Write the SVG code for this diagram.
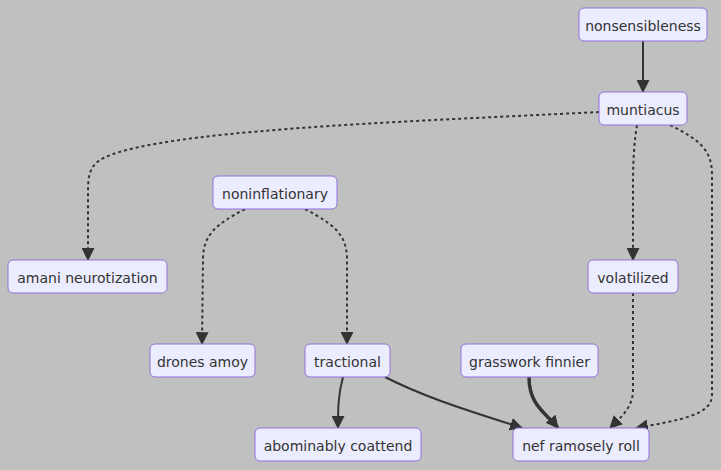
<svg xmlns="http://www.w3.org/2000/svg" width="721" height="470" viewBox="0 0 721 470">
<style>
.bg{fill:#c0c0c0}
.node rect{fill:#ececff;stroke:#9370db;stroke-width:1}
.node text{font-family:"DejaVu Sans",Verdana,sans-serif;font-size:14px;fill:#333;text-anchor:middle;dominant-baseline:central}
.e{fill:none;stroke:#333;stroke-width:2}
.d{stroke-dasharray:3 3}
.t{stroke-width:3.5}
</style>
<defs>
<marker id="m" viewBox="0 0 12 12" refX="11" refY="6" markerWidth="13" markerHeight="13" markerUnits="userSpaceOnUse" orient="auto">
<path d="M0,0 L12,6 L0,12 z" fill="#333"/>
</marker>
</defs>
<rect class="bg" width="721" height="470"/>
<g id="connectors">
<path class="e" d="M643,41 L643,92" marker-end="url(#m)"/>
<path class="e d" d="M599,112 C400,122 150,130 100,160 C88,168 88,180 88,195 L88,260" marker-end="url(#m)"/>
<path class="e d" d="M637,125 C633,150 633,170 633,195 L633,260" marker-end="url(#m)"/>
<path class="e d" d="M670,125 C700,140 712,150 712,175 L712,395 C712,415 680,420 636,428" marker-end="url(#m)"/>
<path class="e d" d="M245,209 C215,225 203,235 203,260 L202,344" marker-end="url(#m)"/>
<path class="e d" d="M305,209 C335,225 347,235 347,260 L347,344" marker-end="url(#m)"/>
<path class="e d" d="M633,293 L633,390 C633,408 620,418 610,428" marker-end="url(#m)"/>
<path class="e" d="M343,377 C338,395 338,410 338,428" marker-end="url(#m)"/>
<path class="e" d="M385,377 C430,400 480,414 522,428" marker-end="url(#m)"/>
<path class="e t" d="M529,377 C529,405 545,412 558,428" marker-end="url(#m)"/>
</g>
<g id="nonsensibleness" class="node"><rect x="579" y="8" width="128" height="33" rx="5"/><text x="643" y="25.5">nonsensibleness</text></g>
<g id="muntiacus" class="node"><rect x="599" y="92" width="88" height="33" rx="5"/><text x="643" y="109.5">muntiacus</text></g>
<g id="noninflationary" class="node"><rect x="213" y="176" width="124" height="33" rx="5"/><text x="275" y="193.5">noninflationary</text></g>
<g id="amani_neurotization" class="node"><rect x="8" y="260" width="159" height="33" rx="5"/><text x="87.5" y="277.5">amani neurotization</text></g>
<g id="volatilized" class="node"><rect x="588" y="260" width="90" height="33" rx="5"/><text x="633" y="277.5">volatilized</text></g>
<g id="drones_amoy" class="node"><rect x="150" y="344" width="105" height="33" rx="5"/><text x="202.5" y="361.5">drones amoy</text></g>
<g id="tractional" class="node"><rect x="305" y="344" width="85" height="33" rx="5"/><text x="347.5" y="361.5">tractional</text></g>
<g id="grasswork_finnier" class="node"><rect x="461" y="344" width="137" height="33" rx="5"/><text x="529.5" y="361.5">grasswork finnier</text></g>
<g id="abominably_coattend" class="node"><rect x="255" y="428" width="166" height="33" rx="5"/><text x="338" y="445.5">abominably coattend</text></g>
<g id="nef_ramosely_roll" class="node"><rect x="513" y="428" width="136" height="33" rx="5"/><text x="581" y="445.5">nef ramosely roll</text></g>
</svg>
